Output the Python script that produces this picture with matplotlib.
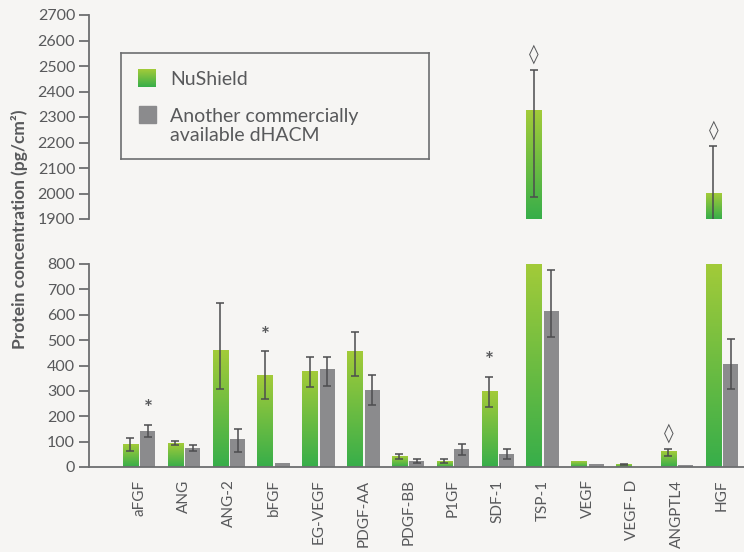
import numpy as np
import matplotlib
matplotlib.use("Agg")
import matplotlib.pyplot as plt
from matplotlib.colors import LinearSegmentedColormap

plt.rcParams['font.family'] = ['Lato', 'DejaVu Sans']

# Data
categories = ["aFGF", "ANG", "ANG-2", "bFGF", "EG-VEGF", "PDGF-AA", "PDGF-BB",
              "P1GF", "SDF-1", "TSP-1", "VEGF", "VEGF- D", "ANGPTL4", "HGF"]
nushield = [90, 92, 460, 362, 375, 455, 42, 22, 297, 2325, 20, 9, 62, 2000]
nushield_err_lo = [25, 7, 153, 94, 60, 96, 12, 5, 62, 340, 0, 3, 18, 190]
nushield_err_hi = [24, 12, 186, 94, 60, 77, 10, 8, 58, 158, 0, 3, 10, 187]
other = [142, 73, 112, 14, 388, 302, 25, 70, 50, 613, 13, 0, 8, 405]
other_err_lo = [25, 11, 52, 0, 69, 58, 8, 23, 20, 102, 0, 0, 0, 96]
other_err_hi = [24, 13, 38, 0, 45, 62, 8, 20, 20, 165, 0, 0, 0, 98]
# significance marks: (category, series, symbol)
marks = [("aFGF", "other", "*"), ("bFGF", "nushield", "*"), ("SDF-1", "nushield", "*"),
         ("TSP-1", "nushield", "\u25CA"), ("ANGPTL4", "nushield", "\u25CA"),
         ("HGF", "nushield", "\u25CA")]

bg = '#f6f5f3'
text_c = '#58595b'
spine_c = '#6d6e70'
gray_c = '#8b8b8d'
err_c = '#4d4d4f'
green_cmap = LinearSegmentedColormap.from_list('g', ['#37ae4a', '#a3cb39'])

fig = plt.figure(figsize=(7.44, 5.52), dpi=100, facecolor=bg)
ax_top = fig.add_axes([89/744, 1 - 219/552, 655/744, 204/552])
ax_bot = fig.add_axes([89/744, 1 - 467/552, 655/744, 203/552])

x = np.arange(len(categories))
w = 0.335
off = 0.195
xlim = (-1.12, 13.49)


def draw(ax, ylo, yhi):
    ax.set_facecolor('none')
    grad = np.linspace(0, 1, 256).reshape(-1, 1)
    for xi, v in zip(x, nushield):
        b = max(ylo, 0)
        t = min(v, yhi)
        if t > b:
            ax.imshow(grad, extent=[xi - off - w/2, xi - off + w/2, b, t], origin='lower',
                      cmap=green_cmap, aspect='auto', zorder=2)
    ax.bar(x + off, other, width=w, color=gray_c, zorder=2)
    for xs, vals, lo, hi in [(x - off, nushield, nushield_err_lo, nushield_err_hi),
                             (x + off, other, other_err_lo, other_err_hi)]:
        m = (np.array(lo) + np.array(hi)) > 0
        ax.errorbar(xs[m], np.array(vals)[m],
                    yerr=[np.array(lo)[m], np.array(hi)[m]], fmt='none',
                    ecolor=err_c, elinewidth=1.3, capsize=3, capthick=1.3, zorder=3, alpha=0.85)
    for cat, ser, sym in marks:
        i = categories.index(cat)
        if ser == "nushield":
            xs, top = i - off, nushield[i] + nushield_err_hi[i]
        else:
            xs, top = i + off, other[i] + other_err_hi[i]
        y = top + 62
        if ylo <= y <= yhi:
            if sym == "*":
                ax.text(xs, y, sym, ha='center', va='center', fontsize=15, color=text_c,
                        fontweight='bold', zorder=4)
            else:
                ax.text(xs, y, sym, ha='center', va='center', fontsize=14, color=text_c,
                        family=['DejaVu Sans'], zorder=4)
    ax.set_xlim(*xlim)
    ax.set_ylim(ylo, yhi)
    ax.set_yticks(np.arange(ylo, yhi + 1, 100))
    for s in ['top', 'right']:
        ax.spines[s].set_visible(False)
    ax.spines['left'].set_color(spine_c)
    ax.spines['left'].set_linewidth(1.3)
    ax.spines['bottom'].set_color(spine_c)
    ax.spines['bottom'].set_linewidth(1.3)
    ax.tick_params(axis='y', length=7, width=1.3, color=spine_c, labelcolor=text_c,
                   labelsize=11.5, pad=3)


draw(ax_top, 1900, 2700)
draw(ax_bot, 0, 800)

ax_top.spines['bottom'].set_visible(False)
ax_top.set_xticks([])

ax_bot.set_xticks(x)
ax_bot.set_xticklabels(categories, rotation=90, fontsize=11, color=text_c)
ax_bot.tick_params(axis='x', length=0, pad=9)

fig.text(20/744, 1 - 229/552, "Protein concentration (pg/cm\u00b2)", rotation=90,
         ha='center', va='center', fontsize=12.5, fontweight='bold', color=text_c)

# legend box
lg = fig.add_axes([121/744, 1 - 159/552, 308/744, 106/552])
lg.set_facecolor('none')
lg.set_xticks([])
lg.set_yticks([])
for s in lg.spines.values():
    s.set_color(spine_c)
    s.set_linewidth(1.2)
lg.imshow(np.linspace(0, 1, 64).reshape(-1, 1), extent=[17, 35, 34, 16], origin='lower',
          cmap=green_cmap, aspect='auto')
lg.add_patch(plt.Rectangle((18, 53), 17, 17, color=gray_c))
lg.set_xlim(0, 308)
lg.set_ylim(106, 0)
lg.text(49, 26, "NuShield", va='center', ha='left', fontsize=14, color=text_c)
lg.text(49, 73, "Another commercially\navailable dHACM", va='center', ha='left',
        fontsize=14, color=text_c, linespacing=1.1)

fig.savefig("out.png", dpi=100, facecolor=bg)
